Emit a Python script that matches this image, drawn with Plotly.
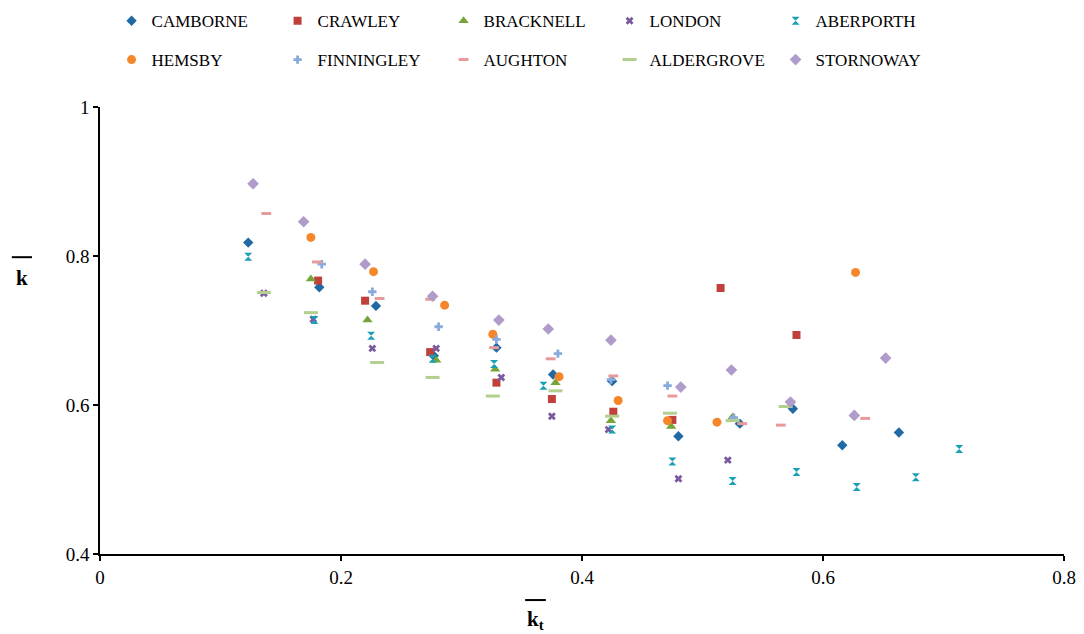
import plotly.graph_objects as go

# ---- data ----
camborne_x = [0.123, 0.182, 0.229, 0.277, 0.329, 0.376, 0.425, 0.480, 0.531, 0.575, 0.616, 0.663]
camborne_y = [0.818, 0.758, 0.733, 0.666, 0.677, 0.641, 0.632, 0.558, 0.575, 0.595, 0.546, 0.563]

crawley_x = [0.181, 0.220, 0.274, 0.329, 0.375, 0.426, 0.475, 0.515, 0.578]
crawley_y = [0.767, 0.740, 0.671, 0.630, 0.608, 0.591, 0.580, 0.757, 0.694]

bracknell_x = [0.175, 0.222, 0.279, 0.328, 0.378, 0.424, 0.474, 0.525]
bracknell_y = [0.769, 0.714, 0.660, 0.648, 0.630, 0.579, 0.571, 0.584]

london_x = [0.136, 0.177, 0.226, 0.279, 0.333, 0.375, 0.422, 0.480, 0.521]
london_y = [0.750, 0.715, 0.676, 0.676, 0.637, 0.585, 0.567, 0.501, 0.526]

aberporth_x = [0.123, 0.178, 0.225, 0.276, 0.327, 0.368, 0.425, 0.475, 0.525, 0.578, 0.628, 0.677, 0.713]
aberporth_y = [0.799, 0.714, 0.693, 0.662, 0.655, 0.626, 0.567, 0.524, 0.498, 0.510, 0.490, 0.503, 0.541]

hemsby_x = [0.175, 0.227, 0.286, 0.326, 0.381, 0.430, 0.471, 0.512, 0.627]
hemsby_y = [0.825, 0.779, 0.734, 0.695, 0.638, 0.606, 0.579, 0.577, 0.778]

finningley_x = [0.184, 0.226, 0.281, 0.329, 0.380, 0.424, 0.471, 0.526]
finningley_y = [0.789, 0.752, 0.705, 0.688, 0.669, 0.634, 0.626, 0.583]

aughton_x = [0.138, 0.180, 0.232, 0.274, 0.327, 0.374, 0.426, 0.475, 0.533, 0.565, 0.635]
aughton_y = [0.857, 0.792, 0.743, 0.742, 0.677, 0.662, 0.639, 0.612, 0.575, 0.573, 0.582]

aldergrove_x = [0.136, 0.175, 0.230, 0.276, 0.326, 0.378, 0.425, 0.473, 0.525, 0.569]
aldergrove_y = [0.751, 0.724, 0.657, 0.637, 0.612, 0.619, 0.585, 0.589, 0.579, 0.598]

stornoway_x = [0.127, 0.169, 0.220, 0.276, 0.331, 0.372, 0.424, 0.482, 0.524, 0.573, 0.626, 0.652]
stornoway_y = [0.897, 0.846, 0.789, 0.746, 0.714, 0.702, 0.687, 0.624, 0.647, 0.604, 0.586, 0.663]

x_ticks = [0, 0.2, 0.4, 0.6, 0.8]
x_tick_labels = ["0", "0.2", "0.4", "0.6", "0.8"]
y_ticks = [0.4, 0.6, 0.8, 1]
y_tick_labels = ["0.4", "0.6", "0.8", "1"]

FONT = "Liberation Serif"

series = [
    ("CAMBORNE", camborne_x, camborne_y, "diamond", 8, "#1f6aa5", "legend"),
    ("CRAWLEY", crawley_x, crawley_y, "square", 8, "#c0403c", "legend"),
    ("BRACKNELL", bracknell_x, bracknell_y, "triangle-up", 9, "#77a33b", "legend"),
    ("LONDON", london_x, london_y, "x", 7, "#7b5aa0", "legend"),
    ("ABERPORTH", aberporth_x, aberporth_y, "hourglass", 8, "#1aa0b4", "legend"),
    ("HEMSBY", hemsby_x, hemsby_y, "circle", 9, "#f5872a", "legend2"),
    ("FINNINGLEY", finningley_x, finningley_y, "cross", 7, "#8aa9dc", "legend2"),
    ("AUGHTON", aughton_x, aughton_y, "line-ew", 7, "#e89a9a", "legend2"),
    ("ALDERGROVE", aldergrove_x, aldergrove_y, "line-ew", 10, "#b3cf8f", "legend2"),
    ("STORNOWAY", stornoway_x, stornoway_y, "diamond", 9, "#b09ccb", "legend2"),
]

fig = go.Figure()
for name, xs, ys, sym, size, color, leg in series:
    if sym == "line-ew":
        marker = dict(symbol=sym, size=size, color=color, line=dict(color=color, width=3))
    else:
        marker = dict(symbol=sym, size=size, color=color, line=dict(width=0))
    fig.add_trace(go.Scatter(x=xs, y=ys, mode="markers", name=name, marker=marker, legend=leg))

axis_common = dict(
    showgrid=False, zeroline=False, showline=True, linecolor="black", linewidth=1.5,
    ticks="outside", ticklen=5, tickcolor="black", tickwidth=1.5,
    tickfont=dict(family=FONT, size=19, color="black"),
)

legend_common = dict(orientation="h", x=0.012, xanchor="left", yanchor="middle",
                     entrywidth=121, entrywidthmode="pixels",
                     font=dict(family=FONT, size=17, color="black"), bgcolor="rgba(0,0,0,0)")

fig.update_layout(
    width=1084, height=634,
    margin=dict(l=100, r=20, t=107, b=80, autoexpand=False),
    paper_bgcolor="white", plot_bgcolor="white",
    font=dict(family=FONT, color="black"),
    xaxis=dict(range=[0, 0.8], tickvals=x_ticks, ticktext=x_tick_labels, **axis_common),
    yaxis=dict(range=[0.4, 1], tickvals=y_ticks, ticktext=y_tick_labels, **axis_common),
    legend=dict(y=1.192, **legend_common),
    legend2=dict(y=1.105, **legend_common),
    showlegend=True,
)

# axis titles: k with overbar (y) and k_t with overbar (x); the overbars are short lines
ann_font = dict(family=FONT, size=21, color="black")
fig.add_annotation(xref="paper", yref="paper", x=-0.081, y=0.618, text="<b>k</b>",
                   showarrow=False, font=ann_font, xanchor="center", yanchor="middle")
fig.add_annotation(xref="paper", yref="paper", x=0.452, y=-0.148, text="<b>k<sub>t</sub></b>",
                   showarrow=False, font=ann_font, xanchor="center", yanchor="middle")
fig.add_shape(type="line", xref="paper", yref="paper", x0=-0.0915, x1=-0.0705, y0=0.664, y1=0.664,
              line=dict(color="black", width=2))
fig.add_shape(type="line", xref="paper", yref="paper", x0=0.441, x1=0.4625, y0=-0.103, y1=-0.103,
              line=dict(color="black", width=2))

fig.write_html("out.html")
